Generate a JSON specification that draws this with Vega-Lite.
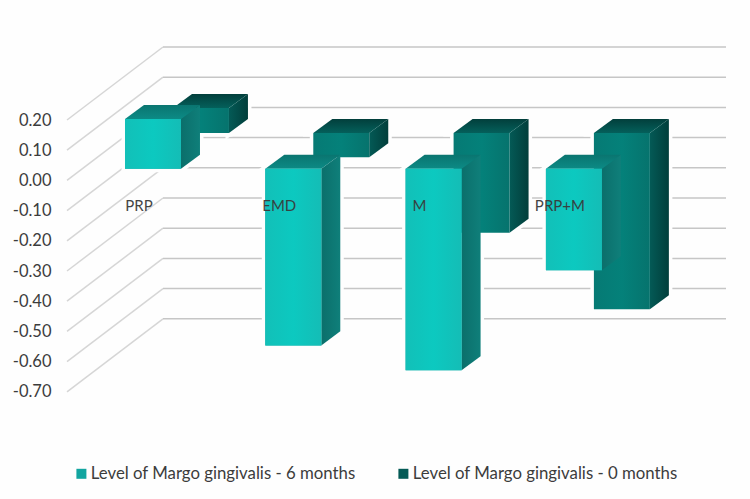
{
"$schema":"https://vega.github.io/schema/vega-lite/v6.json",
"width":750,"height":499,"padding":0,"autosize":{"type":"none"},"background":"#fefefe",
"config":{"view":{"stroke":null}},
"layer":[
{"data":{"values":[{"tick":0.2},{"tick":0.1},{"tick":0},{"tick":-0.1},{"tick":-0.2},{"tick":-0.3},{"tick":-0.4},{"tick":-0.5},{"tick":-0.6},{"tick":-0.7}]},
 "transform":[{"calculate":"-0.613","as":"a"},{"calculate":"0.0713","as":"c"},{"calculate":"datum.tick+0.2417","as":"back"}],
 "mark":{"type":"rule","stroke":"#d6d6d6","strokeWidth":1.5},
 "encoding":{
  "x":{"field":"a","type":"quantitative","scale":{"domain":[-1.0905,4.255],"nice":false,"zero":false},"axis":null},
  "x2":{"field":"c"},
  "y":{"field":"tick","type":"quantitative","scale":{"domain":[-1.055,0.5974],"nice":false,"zero":false},
    "axis":{"title":null,"orient":"left","offset":-51,"values":[0.2,0.1,0,-0.1,-0.2,-0.3,-0.4,-0.5,-0.6,-0.7],"format":".2f","labelExpr":"replace(datum.label,'−','-')","domain":false,"ticks":false,"grid":false,"labelPadding":0,"labelFont":"Lato","labelFontSize":16.5,"labelColor":"#3c3c3c","labelOverlap":false}},
  "y2":{"field":"back"}}},
{"data":{"values":[{"tick":0.2},{"tick":0.1},{"tick":0},{"tick":-0.1},{"tick":-0.2},{"tick":-0.3},{"tick":-0.4},{"tick":-0.5},{"tick":-0.6},{"tick":-0.7}]},
 "transform":[{"calculate":"0.0713","as":"c"},{"calculate":"4.084","as":"e"},{"calculate":"datum.tick+0.2417","as":"back"}],
 "mark":{"type":"rule","stroke":"#c6c6c6","strokeWidth":1.5},
 "encoding":{"x":{"field":"c","type":"quantitative"},"x2":{"field":"e"},"y":{"field":"back","type":"quantitative"}}},
{"data":{"values":[
 {"category":"PRP","series":"Level of Margo gingivalis - 6 months","value":0.165},
 {"category":"EMD","series":"Level of Margo gingivalis - 6 months","value":-0.585},
 {"category":"M","series":"Level of Margo gingivalis - 6 months","value":-0.667},
 {"category":"PRP+M","series":"Level of Margo gingivalis - 6 months","value":-0.336},
 {"category":"PRP","series":"Level of Margo gingivalis - 0 months","value":0.083},
 {"category":"EMD","series":"Level of Margo gingivalis - 0 months","value":-0.08},
 {"category":"M","series":"Level of Margo gingivalis - 0 months","value":-0.33},
 {"category":"PRP+M","series":"Level of Margo gingivalis - 0 months","value":-0.583}]},
 "transform":[
  {"calculate":"indexof(['PRP','EMD','M','PRP+M'],datum.category)","as":"i"},
  {"calculate":"indexof(datum.series,'0 months')>=0?1:0","as":"b"},
  {"calculate":"datum.i-0.1996+datum.b*0.342","as":"xl"},
  {"calculate":"datum.xl+0.399","as":"xr"},
  {"calculate":"0.0387+datum.b*0.118","as":"base"},
  {"calculate":"datum.base+max(datum.value,0)","as":"ytop"},
  {"calculate":"datum.base+min(datum.value,0)","as":"ybot"},
  {"calculate":"[0,1]","as":"t"},
  {"flatten":["t"]},
  {"calculate":"datum.xr+datum.t*0.1354","as":"sx"},
  {"calculate":"datum.ytop+datum.t*0.0464","as":"sy"},
  {"calculate":"datum.ybot+datum.t*0.0464","as":"sy2"},
  {"calculate":"datum.xl+datum.t*0.1354","as":"tx"},
  {"calculate":"datum.series+datum.category","as":"id"}
 ],
 "layer":[
  {"mark":{"type":"area","orient":"vertical","fill":"#fefefe","stroke":"#fefefe","strokeWidth":7},
   "encoding":{"x":{"field":"sx","type":"quantitative"},"y":{"field":"sy","type":"quantitative"},"y2":{"field":"sy2"},"detail":{"field":"id"}}},
  {"mark":{"type":"area","orient":"horizontal","fill":"#fefefe","stroke":"#fefefe","strokeWidth":7},
   "encoding":{"y":{"field":"sy","type":"quantitative"},"x":{"field":"tx","type":"quantitative"},"x2":{"field":"sx"},"detail":{"field":"id"}}},
  {"transform":[{"filter":"datum.t==0"}],"mark":{"type":"rect","fill":"#fefefe","stroke":"#fefefe","strokeWidth":7},
   "encoding":{"x":{"field":"xl","type":"quantitative"},"x2":{"field":"xr"},"y":{"field":"ytop","type":"quantitative"},"y2":{"field":"ybot"}}},

  {"transform":[{"filter":"datum.b==1"}],"mark":{"type":"area","orient":"vertical","fill":{"gradient":"linear","x1":0,"y1":0,"x2":1,"y2":0,"stops":[{"offset":0,"color":"#045a56"},{"offset":1,"color":"#013e3b"}]}},
   "encoding":{"x":{"field":"sx","type":"quantitative"},"y":{"field":"sy","type":"quantitative"},"y2":{"field":"sy2"},"detail":{"field":"id"}}},
  {"transform":[{"filter":"datum.b==1"}],"mark":{"type":"area","orient":"horizontal","fill":{"gradient":"linear","x1":0,"y1":1,"x2":0,"y2":0,"stops":[{"offset":0,"color":"#04605b"},{"offset":1,"color":"#023f3c"}]}},
   "encoding":{"y":{"field":"sy","type":"quantitative"},"x":{"field":"tx","type":"quantitative"},"x2":{"field":"sx"},"detail":{"field":"id"}}},
  {"transform":[{"filter":"datum.t==0&&datum.b==1"}],"mark":{"type":"rect","fill":{"gradient":"linear","x1":0,"y1":0,"x2":1,"y2":0,"stops":[{"offset":0,"color":"#067a74"},{"offset":0.5,"color":"#04817a"},{"offset":1,"color":"#06736d"}]}},
   "encoding":{"x":{"field":"xl","type":"quantitative"},"x2":{"field":"xr"},"y":{"field":"ytop","type":"quantitative"},"y2":{"field":"ybot"}}},

  {"transform":[{"filter":"datum.b==0"}],"mark":{"type":"area","orient":"vertical","fill":{"gradient":"linear","x1":0,"y1":0,"x2":1,"y2":0,"stops":[{"offset":0,"color":"#0b6f6b"},{"offset":1,"color":"#0f7f7a"}]}},
   "encoding":{"x":{"field":"sx","type":"quantitative"},"y":{"field":"sy","type":"quantitative"},"y2":{"field":"sy2"},"detail":{"field":"id"}}},
  {"transform":[{"filter":"datum.b==0"}],"mark":{"type":"area","orient":"horizontal","fill":{"gradient":"linear","x1":0,"y1":1,"x2":0,"y2":0,"stops":[{"offset":0,"color":"#0c8a85"},{"offset":1,"color":"#0a7570"}]}},
   "encoding":{"y":{"field":"sy","type":"quantitative"},"x":{"field":"tx","type":"quantitative"},"x2":{"field":"sx"},"detail":{"field":"id"}}},
  {"transform":[{"filter":"datum.t==0"}],"mark":{"type":"rect"},
   "encoding":{"x":{"field":"xl","type":"quantitative"},"x2":{"field":"xr"},"y":{"field":"ytop","type":"quantitative"},"y2":{"field":"ybot"},
    "opacity":{"condition":{"test":"datum.b==0","value":1},"value":0},
    "color":{"field":"series","type":"nominal","scale":{"domain":["Level of Margo gingivalis - 6 months","Level of Margo gingivalis - 0 months"],"range":["#12a5a0","#045a56"]},
     "legend":{"title":null,"orient":"none","legendX":73,"legendY":465,"direction":"horizontal","columns":2,"columnPadding":39,"symbolType":"square","symbolSize":100,"symbolOpacity":1,"symbolStrokeWidth":0,"labelFont":"Lato","labelFontSize":16.8,"labelColor":"#3c3c3c","labelLimit":400,"labelOffset":1}}}},
  {"transform":[{"filter":"datum.t==0&&datum.b==0"}],"mark":{"type":"rect","fill":{"gradient":"linear","x1":0,"y1":0,"x2":1,"y2":0,"stops":[{"offset":0,"color":"#12c0b8"},{"offset":0.5,"color":"#0cc9c0"},{"offset":1,"color":"#14bdb6"}]}},
   "encoding":{"x":{"field":"xl","type":"quantitative"},"x2":{"field":"xr"},"y":{"field":"ytop","type":"quantitative"},"y2":{"field":"ybot"}}}
 ]},
{"data":{"values":[{"category":"PRP"},{"category":"EMD"},{"category":"M"},{"category":"PRP+M"}]},
 "transform":[{"calculate":"indexof(['PRP','EMD','M','PRP+M'],datum.category)-0.1","as":"lx"},{"calculate":"-0.085","as":"ly"}],
 "mark":{"type":"text","font":"Lato","fontSize":15,"color":"#3a3a3a","opacity":0.95},
 "encoding":{"x":{"field":"lx","type":"quantitative"},"y":{"field":"ly","type":"quantitative"},"text":{"field":"category","type":"nominal"}}}
]}
